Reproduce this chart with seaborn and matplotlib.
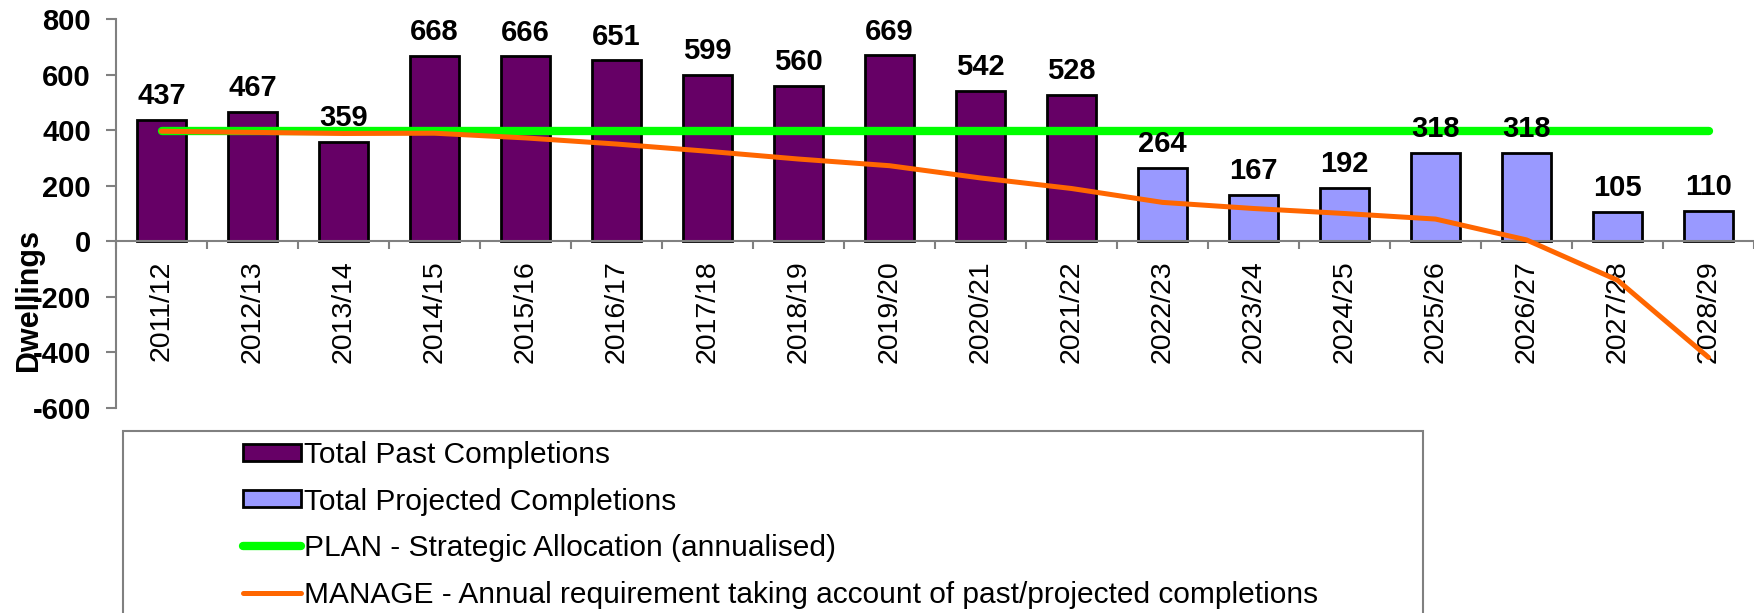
import numpy as np
import pandas as pd
import matplotlib
matplotlib.use("Agg")
import matplotlib.pyplot as plt
import seaborn as sns
from matplotlib.patches import Rectangle, Patch
from matplotlib.lines import Line2D

years = ["2011/12", "2012/13", "2013/14", "2014/15", "2015/16", "2016/17",
         "2017/18", "2018/19", "2019/20", "2020/21", "2021/22", "2022/23",
         "2023/24", "2024/25", "2025/26", "2026/27", "2027/28", "2028/29"]
completions = [437, 467, 359, 668, 666, 651, 599, 560, 669, 542, 528,
               264, 167, 192, 318, 318, 105, 110]
kind = ["Total Past Completions"] * 11 + ["Total Projected Completions"] * 7
plan = [396] * 18
manage = [396, 392, 388, 389, 372, 350, 324, 296, 272, 228, 190,
          140, 118, 100, 80, 5, -140, -418]

past_col = "#660066"
proj_col = "#9999FF"
plan_col = "#00FF00"
manage_col = "#FF6600"
grey = "#808080"

sns.set_style("white")
plt.rcParams["font.family"] = ["Liberation Sans", "DejaVu Sans"]
plt.rcParams["axes.unicode_minus"] = False
plt.rcParams["text.color"] = "black"
plt.rcParams["axes.labelcolor"] = "black"

df = pd.DataFrame({"year": years, "completions": completions, "kind": kind,
                   "plan": plan, "manage": manage})

fig = plt.figure(figsize=(17.54, 6.13), dpi=100)
ax = fig.add_axes([116 / 1754, 1 - 408 / 613, 1 - 116 / 1754, (408 - 19) / 613])

sns.barplot(data=df, x="year", y="completions", hue="kind", dodge=False,
            width=0.53, saturation=1,
            palette={"Total Past Completions": past_col,
                     "Total Projected Completions": proj_col},
            edgecolor="black", linewidth=2, ax=ax, legend=False, zorder=2)

sns.lineplot(data=df, x="year", y="plan", color=plan_col, linewidth=6,
             solid_capstyle="round", ax=ax, zorder=3)
sns.lineplot(data=df, x="year", y="manage", color=manage_col, linewidth=3.6,
             ax=ax, zorder=4)

for c in ax.containers:
    ax.bar_label(c, padding=7, fontsize=21, fontweight="bold", zorder=6,
                 color="black")

ax.set_xlim(-0.5, 17.5)
ax.set_ylim(-600, 800)
ax.set_yticks(range(-600, 801, 200))
ax.set_xticks(np.arange(-0.5, 18, 1), minor=True)

for s in ["top", "right"]:
    ax.spines[s].set_visible(False)
ax.spines["bottom"].set_position(("data", 0))
ax.spines["bottom"].set_color(grey)
ax.spines["left"].set_color(grey)
ax.spines["bottom"].set_linewidth(1.5)
ax.spines["left"].set_linewidth(1.5)

ax.tick_params(axis="x", which="major", length=0, pad=14, labelsize=20.5,
               labelrotation=90, labelcolor="black")
ax.tick_params(axis="x", which="minor", length=6, width=1.5, color=grey,
               direction="out", bottom=True)
ax.tick_params(axis="y", length=7, width=1.5, color=grey, direction="out",
               left=True, pad=11, labelsize=21, labelcolor="black")
for t in ax.get_yticklabels():
    t.set_fontweight("bold")

ax.set_xlabel("")
ax.set_ylabel("Dwellings", fontsize=22, fontweight="bold")
ax.yaxis.set_label_coords(-0.044, 0.278)

fig.patches.append(Rectangle((123 / 1754, -0.1), (1423 - 123) / 1754,
                             1 - 431 / 613 + 0.1, transform=fig.transFigure,
                             fill=False, edgecolor=grey, lw=1.5))

handles = [
    Patch(facecolor=past_col, edgecolor="black", linewidth=2),
    Patch(facecolor=proj_col, edgecolor="black", linewidth=2),
    Line2D([], [], color=plan_col, linewidth=6, solid_capstyle="round"),
    Line2D([], [], color=manage_col, linewidth=3.6),
]
labels = ["Total Past Completions", "Total Projected Completions",
          "PLAN - Strategic Allocation (annualised)",
          "MANAGE - Annual requirement taking account of past/projected completions"]
ax.legend(handles, labels, loc="upper left",
          bbox_to_anchor=(243 / 1754, 1 - 441 / 613),
          bbox_transform=fig.transFigure, frameon=False, fontsize=21.5,
          handlelength=1.95, handleheight=0.5, handletextpad=0.08,
          labelspacing=0.62, borderaxespad=0, borderpad=0)

fig.savefig("out.png", dpi=100)
